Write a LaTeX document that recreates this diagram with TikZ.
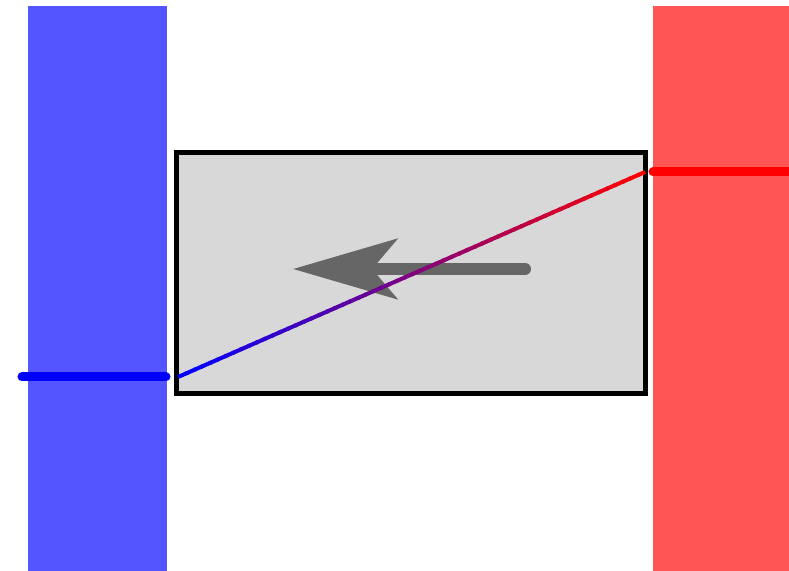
\documentclass[tikz,border=0pt]{standalone}
\usetikzlibrary{arrows.meta, calc, positioning}
\definecolor{coldside}{HTML}{5555FF}
\definecolor{hotside}{HTML}{FF5555}
\definecolor{cellgray}{HTML}{D8D8D8}
\definecolor{fluxgray}{HTML}{666666}
\tikzset{
  cellbox/.style={draw=black, fill=cellgray, line width=0.05cm, inner sep=0pt, outer sep=0pt,
    minimum width=4.68cm, minimum height=2.40cm},
  lead/.style={line width=0.09cm, line cap=round},
  flux/.style={-{Stealth[length=1.04cm, width=0.60cm, inset=0.25cm]}, line width=0.12cm,
    line cap=round, fluxgray},
}

\begin{document}
\begin{tikzpicture}[x=0.01cm, y=-0.01cm]
  \useasboundingbox (0,0) rectangle (789,571);
  % cold and hot reservoirs
  \fill[coldside] (28,6) rectangle (167,571);
  \fill[hotside] (653,6) rectangle (789,571);
  % the cell between them
  \node[cellbox] (cell) at (411,273) {};
  % heat flux arrow
  \coordinate (fluxstart) at (525,269);
  \coordinate (fluxend) at (293,269);
  \draw[flux] (fluxstart) -- (fluxend);
  % leads
  \coordinate (coldout) at (22,377);
  \coordinate (coldin) at (166,377);
  \coordinate (hotin) at (653,172);
  \coordinate (hotout) at (789,172);
  \draw[lead, blue] (coldout) -- (coldin);
  \draw[lead, red] (hotin) -- (hotout);
  % temperature profile across the cell
  \coordinate (profa) at (178,377);
  \coordinate (profb) at (645,172);
  \foreach \i in {0,...,59}{
    \pgfmathsetmacro{\ta}{\i/60}
    \pgfmathsetmacro{\tb}{(\i+1.3)/60}
    \pgfmathsetmacro{\mix}{100*\i/59}
    \draw[line width=0.04cm, red!\mix!blue]
      ($(profa)!\ta!(profb)$) -- ($(profa)!{min(\tb,1)}!(profb)$);
  }
\end{tikzpicture}
\end{document}
